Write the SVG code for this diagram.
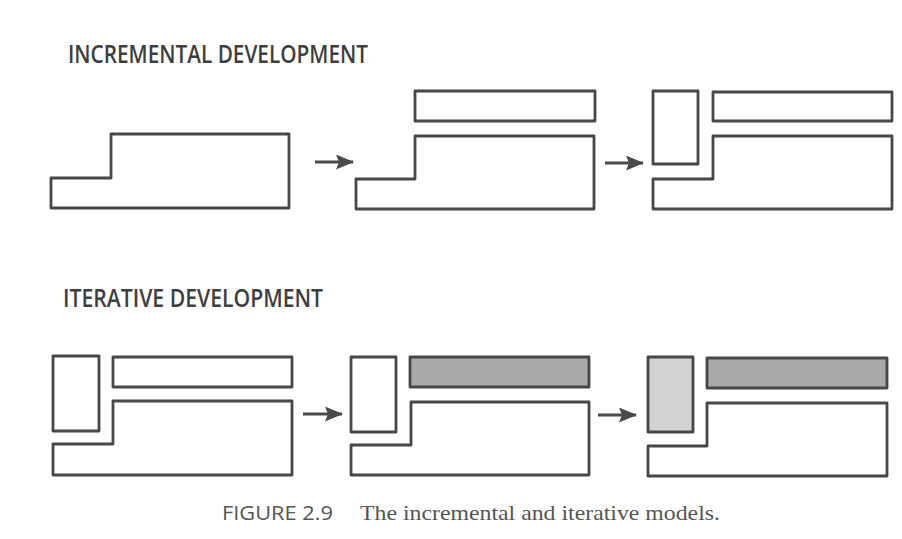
<svg xmlns="http://www.w3.org/2000/svg" width="902" height="539" viewBox="0 0 902 539">
<defs>
<style>
.s{fill:#fff;stroke:#474747;stroke-width:2.8;stroke-linejoin:round}
.dk{fill:#a9a9a9}
.lt{fill:#d3d3d3}
.title{font-family:"Open Sans","DejaVu Sans",sans-serif;font-weight:600;font-size:26px;fill:#3e3e3e}
.arr{stroke:#4a4a4a;stroke-width:3;fill:none}
.cap1{font-family:"Open Sans","Liberation Sans",sans-serif;font-size:19.5px;fill:#555}
.cap2{font-family:"Liberation Serif",serif;font-size:21px;fill:#555}
</style>
<marker id="ah" viewBox="0 0 18 15" refX="17" refY="7.5" markerWidth="18" markerHeight="15" markerUnits="userSpaceOnUse" orient="auto">
<path d="M0,0 L18,7.5 L0,15 L3,7.5 Z" fill="#4a4a4a"/>
</marker>
</defs>
<rect width="902" height="539" fill="#fff"/>
<text class="title" x="68" y="63" textLength="300" lengthAdjust="spacingAndGlyphs">INCREMENTAL DEVELOPMENT</text>
<text class="title" x="63" y="307" textLength="260" lengthAdjust="spacingAndGlyphs">ITERATIVE DEVELOPMENT</text>

<g id="inc1">
<path class="s" d="M51,178 H111 V134 H289 V208 H51 Z"/>
</g>
<g id="inc2">
<rect class="s" x="415" y="91" width="180" height="30"/>
<path class="s" d="M356,179 H415 V136 H594 V209 H356 Z"/>
</g>
<g id="inc3">
<rect class="s" x="653" y="91" width="45" height="73"/>
<rect class="s" x="713" y="92" width="179" height="29"/>
<path class="s" d="M653,179 H713 V136 H892 V209 H653 Z"/>
</g>

<g id="it1">
<rect class="s" x="53" y="356" width="46" height="75"/>
<rect class="s" x="113" y="357" width="179" height="30"/>
<path class="s" d="M53,444 H113 V401 H292 V475 H53 Z"/>
</g>
<g id="it2">
<rect class="s" x="351" y="357" width="45" height="75"/>
<rect class="s dk" x="410" y="357" width="179" height="30"/>
<path class="s" d="M351,445 H411 V402 H589 V475 H351 Z"/>
</g>
<g id="it3">
<rect class="s lt" x="648" y="357" width="45" height="75"/>
<rect class="s dk" x="707" y="358" width="180" height="30"/>
<path class="s" d="M648,446 H707 V403 H887 V476 H648 Z"/>
</g>

<g id="connectors">
<line class="arr" x1="315" y1="162" x2="353" y2="162" marker-end="url(#ah)"/>
<line class="arr" x1="605" y1="163" x2="643" y2="163" marker-end="url(#ah)"/>
<line class="arr" x1="303" y1="414" x2="342" y2="414" marker-end="url(#ah)"/>
<line class="arr" x1="598" y1="415" x2="636" y2="415" marker-end="url(#ah)"/>
</g>

<text class="cap1" x="222" y="520" textLength="111" lengthAdjust="spacingAndGlyphs">FIGURE 2.9</text>
<text class="cap2" x="360" y="520" textLength="360" lengthAdjust="spacingAndGlyphs">The incremental and iterative models.</text>
</svg>
